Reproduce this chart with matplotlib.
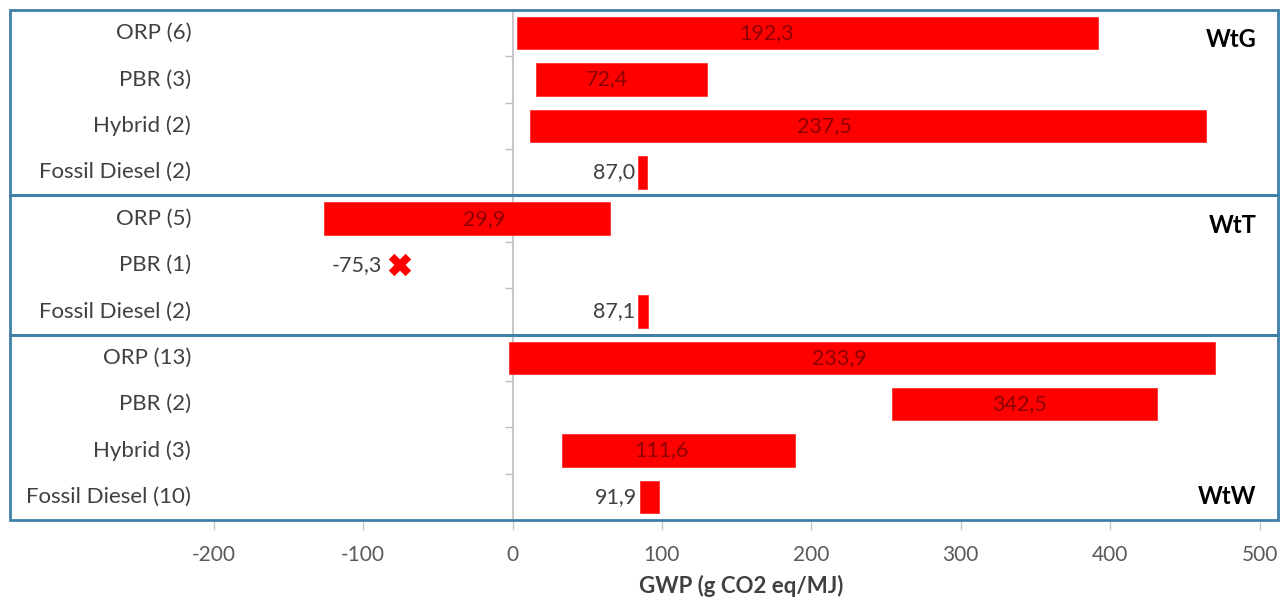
import matplotlib
matplotlib.use("Agg")
import matplotlib.pyplot as plt
import matplotlib.transforms as mtransforms
from matplotlib.patches import Rectangle
import numpy as np

plt.rcParams['font.family'] = ['Lato', 'DejaVu Sans']

# Studies per life-cycle boundary, GWP range (min..max) and mean (g CO2 eq/MJ)
categories = [
    "ORP (6)", "PBR (3)", "Hybrid (2)", "Fossil Diesel (2)",
    "ORP (5)", "PBR (1)", "Fossil Diesel (2)",
    "ORP (13)", "PBR (2)", "Hybrid (3)", "Fossil Diesel (10)",
]
gwp_min = [3, 16, 12, 84, -126, -75.3, 84, -2.5, 254, 33, 85]
gwp_max = [392, 130, 464, 90, 65, -75.3, 91, 470, 431, 189, 98]
gwp_mean = [192.3, 72.4, 237.5, 87.0, 29.9, -75.3, 87.1, 233.9, 342.5, 111.6, 91.9]
is_fossil = [False, False, False, True, False, False, True, False, False, False, True]

groups = ["WtG", "WtT", "WtW"]
group_rows = [(0, 3), (4, 6), (7, 10)]

# where the mean labels sit on the bars
mean_label_x = [170, 63, 209, None, -19, None, None, 219, 339, 100, None]

x_ticks = [-200, -100, 0, 100, 200, 300, 400, 500]

RED = "#ff0000"
BORDER = "#3f80a8"
GRID = "#bfbfbf"
TEXT = "#404040"

LABEL_SIZE = 16
VALUE_SIZE = 15.5

fig = plt.figure(figsize=(12.8, 6.05), dpi=100)
ax = fig.add_axes([10 / 1280, 85 / 605, 1268 / 1280, 510 / 605])

rows = np.arange(len(categories))
mins = np.array(gwp_min)
maxs = np.array(gwp_max)
widths = maxs - mins

bar_rows = rows[widths > 0]
ax.barh(bar_rows, widths[widths > 0], left=mins[widths > 0], height=0.7,
        color=RED, edgecolor="#ff3030", linewidth=0.6, zorder=3)

# single-study rows are drawn as a point
pt_rows = rows[widths == 0]
ax.scatter(mins[widths == 0], pt_rows, marker="X", s=260, color=RED,
           edgecolors="none", zorder=4)

for i in rows:
    txt = f"{gwp_mean[i]:.1f}".replace(".", ",")
    if widths[i] == 0:
        ax.annotate(txt, xy=(gwp_mean[i], i), xytext=(-13, 0),
                    textcoords="offset points", ha="right", va="center",
                    fontsize=VALUE_SIZE, color=TEXT, zorder=5)
    elif is_fossil[i]:
        ax.annotate(txt, xy=(mins[i], i), xytext=(-2, 0),
                    textcoords="offset points", ha="right", va="center",
                    fontsize=VALUE_SIZE, color=TEXT, zorder=5)
    else:
        ax.text(mean_label_x[i], i, txt, ha="center", va="center",
                fontsize=VALUE_SIZE, color="#8c0000", zorder=5)

# category labels to the left of the value axis
for i, lab in enumerate(categories):
    ax.text(-215, i, lab, ha="right", va="center", fontsize=LABEL_SIZE,
            color=TEXT)

# group names
ax.text(498, 0.13, groups[0], ha="right", va="center", fontsize=17,
        fontweight="bold", color="black")
ax.text(498, 4.15, groups[1], ha="right", va="center", fontsize=17,
        fontweight="bold", color="black")
ax.text(498, 10.0, groups[2], ha="right", va="center", fontsize=17,
        fontweight="bold", color="black")

ax.set_xlim(-336.3, 512.3)
ax.set_ylim(10.5, -0.5)

# zero axis with category tick marks
for s in ["top", "right", "bottom"]:
    ax.spines[s].set_visible(False)
ax.spines["left"].set_position(("data", 0))
ax.spines["left"].set_color(GRID)
ax.spines["left"].set_linewidth(1.2)
ax.set_yticks([])
sep = [r + 0.5 for a, b in group_rows for r in range(a, b)]
ax.set_yticks(sep, minor=True)
ax.tick_params(axis="y", which="minor", direction="out", length=6,
               color=GRID, width=1)

ax.set_xticks(x_ticks)
ax.set_xticklabels([str(t) for t in x_ticks])
ax.tick_params(axis="x", direction="out", length=7, color="#c8c8c8",
               width=1, pad=11, labelsize=15, labelcolor="#595959")

# boxes around each boundary group
blend = mtransforms.blended_transform_factory(ax.transAxes, ax.transData)
for a, b in group_rows:
    ax.add_patch(Rectangle((0, a - 0.5), 1, b - a + 1, transform=blend,
                           fill=False, edgecolor=BORDER, linewidth=2,
                           clip_on=False, zorder=6))

fig.text(741 / 1280, 1 - 586 / 605, "GWP (g CO2 eq/MJ)", ha="center",
         va="center", fontsize=16, fontweight="bold", color="#404040")

fig.savefig("out.png", dpi=100, facecolor="white")
